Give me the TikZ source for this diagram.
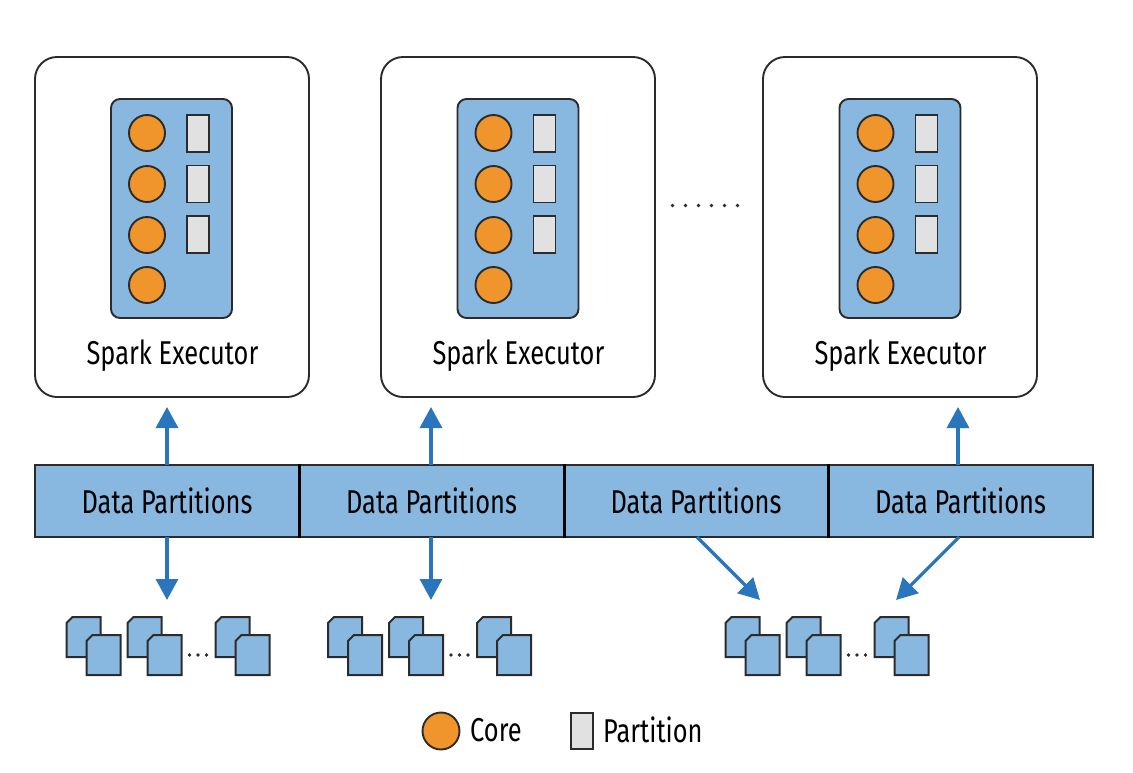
\documentclass[tikz,border=0pt]{standalone}
\usepackage{fontspec}
\setmainfont[FakeStretch=0.77]{Fira Sans}
\usetikzlibrary{arrows.meta}
\definecolor{panelblue}{HTML}{88B7DF}
\definecolor{coreorange}{HTML}{F0952B}
\definecolor{partgrey}{HTML}{E1E1E1}
\definecolor{arrowblue}{HTML}{2A75BC}
\definecolor{inkline}{HTML}{2B2B2B}
\tikzset{
  x=1pt,y=-1pt,
  execbox/.style={draw=inkline,line width=1.9pt,fill=white,rounded corners=22pt,minimum width=274pt,minimum height=340pt,inner sep=0pt},
  innerbox/.style={draw=inkline,line width=1.9pt,fill=panelblue,rounded corners=9pt,minimum width=121pt,minimum height=219pt,inner sep=0pt},
  corenode/.style={circle,draw=inkline,line width=1.9pt,fill=coreorange,minimum size=36pt,inner sep=0pt},
  partnode/.style={rectangle,draw=inkline,line width=1.9pt,fill=partgrey,minimum width=22pt,minimum height=37pt,inner sep=0pt},
  databox/.style={rectangle,draw=inkline,line width=1.3pt,fill=panelblue,minimum height=72pt,inner sep=0pt},
  label/.style={font=\fontsize{33}{35}\selectfont,text=black,inner sep=0pt},
  flow/.style={draw=arrowblue,line width=3.2pt,-{Triangle[length=21pt,width=22pt]}},
  docshape/.style={draw=inkline,line width=2pt,fill=panelblue,line join=miter},
  dotmark/.style={circle,fill=inkline,minimum size=3.6pt,inner sep=0pt},
}
\newcommand{\execunit}[3]{%
  \node[execbox] (e#1) at (#2+172,227) {};
  \node[innerbox] (i#1) at (#3+171.5,208.5) {};
  \foreach \n/\yy in {1/133,2/184,3/235,4/285}
    \node[corenode] (c#1\n) at (#3+147,\yy) {};
  \foreach \n/\yy in {1/133.5,2/184,3/234.5}
    \node[partnode] (p#1\n) at (#3+198,\yy) {};
  \node[label] (t#1) at (#2+172.5,355.5) {Spark Executor};
}
\newcommand{\onedoc}[2]{%
  \draw[docshape] (#1+6,#2) -- (#1+34,#2) -- (#1+34,#2+40) -- (#1,#2+40) -- (#1,#2+6) -- cycle;
}
\newcommand{\docgroup}[2]{%
  \onedoc{#1+67}{617}\onedoc{#1+87}{635}
  \onedoc{#1+128}{617}\onedoc{#1+148}{635}
  \onedoc{#1+216}{617}\onedoc{#1+236}{635}
  \node[dotmark] (g#2a) at (#1+190,655) {};
  \node[dotmark] (g#2b) at (#1+198.5,655) {};
  \node[dotmark] (g#2c) at (#1+207,655) {};
}
\begin{document}
\begin{tikzpicture}
\useasboundingbox (0,0) rectangle (1133,772);
\execunit{1}{0}{0}
\execunit{2}{346}{346.5}
\execunit{3}{728}{728.5}
\foreach \n/\xx in {1/672.5,2/685.5,3/698.5,4/711.5,5/724.5,6/737.5}
  \node[dotmark] (m\n) at (\xx,205.5) {};

\node[databox,minimum width=264pt] (d1) at (167,501) {};
\node[databox,minimum width=265pt] (d2) at (431.5,501) {};
\node[databox,minimum width=264pt] (d3) at (696,501) {};
\node[databox,minimum width=265pt] (d4) at (960.5,501) {};
\draw[line width=3.6pt,black] (d1.north east) -- (d1.south east);
\draw[line width=3.6pt,black] (d2.north east) -- (d2.south east);
\draw[line width=3.6pt,black] (d3.north east) -- (d3.south east);
\node[label] (l1) at (d1) {Data Partitions};
\node[label] (l2) at (d2) {Data Partitions};
\node[label] (l3) at (d3) {Data Partitions};
\node[label] (l4) at (d4) {Data Partitions};

\coordinate (u1) at (167,407);
\coordinate (u2) at (431,407);
\coordinate (u4) at (958,407);
\coordinate (b1) at (167,600);
\coordinate (b2) at (431,600);
\coordinate (b3) at (760,600);
\coordinate (b4) at (896,600);
\coordinate (s1) at (167,465);
\coordinate (s2) at (431,465);
\coordinate (s4) at (958,465);
\coordinate (r1) at (167,537);
\coordinate (r2) at (431,537);
\coordinate (r3) at (697,537);
\coordinate (r4) at (959,537);
\draw[flow] (s1) -- (u1);
\draw[flow] (s2) -- (u2);
\draw[flow] (s4) -- (u4);
\draw[flow] (r1) -- (b1);
\draw[flow] (r2) -- (b2);
\draw[flow] (r3) -- (b3);
\draw[flow] (r4) -- (b4);

\docgroup{-0.5}{1}
\docgroup{261}{2}
\docgroup{658.5}{3}

\node[corenode,minimum size=37pt] (legcore) at (441,731) {};
\node[label,anchor=west] (legcoret) at (470,730) {Core};
\node[partnode,minimum height=36pt] (legpart) at (582,731) {};
\node[label,anchor=west] (legpartt) at (603,730) {Partition};
\end{tikzpicture}
\end{document}
